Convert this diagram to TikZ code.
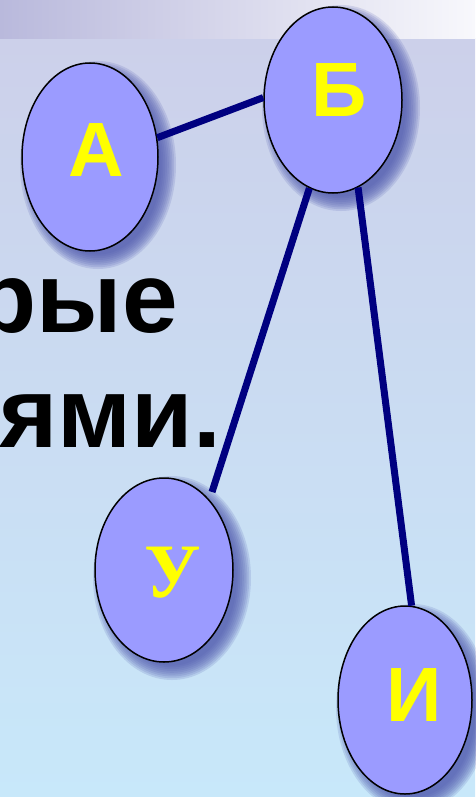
\documentclass[tikz,border=0pt]{standalone}
\usepackage{fontspec}
\setmainfont{Liberation Sans}
\newfontfamily\serifcyr{Liberation Serif}
\usetikzlibrary{shapes.geometric}
\definecolor{bandL}{RGB}{185,185,220}
\definecolor{bandR}{RGB}{248,248,252}
\definecolor{bgTop}{RGB}{204,208,234}
\definecolor{bgBot}{RGB}{200,232,250}
\definecolor{nodefill}{RGB}{155,155,255}
\definecolor{shadowc}{RGB}{80,90,175}
\definecolor{edgec}{RGB}{0,0,128}
\definecolor{lettc}{RGB}{255,255,0}
\tikzset{
  vertex/.style={ellipse, draw=black, line width=1.5pt, fill=nodefill,
    inner sep=0pt, minimum width=#1},
  vlabel/.style={inner sep=0pt, text=lettc, font=\fontsize{77}{77}\selectfont\bfseries},
  edge/.style={draw=edgec, line width=7pt},
  bigtext/.style={inner sep=0pt, anchor=base east, font=\fontsize{100}{100}\selectfont\bfseries},
  shadowlayer/.style={fill=shadowc, opacity=0.17}
}
\newcommand{\mysoftshadow}[4]{%
  \foreach \k in {0,...,8}{
    \fill[shadowlayer] (#1+8,#2+8) ellipse ({#3+10-1.8*\k} and {#4+10-1.8*\k});
  }}
\begin{document}
\begin{tikzpicture}[x=1pt,y=-1pt]
\useasboundingbox (0,0) rectangle (475,797);
\shade[top color=bgTop, bottom color=bgBot] (0,39) rectangle (475,797);
\shade[left color=bandL, right color=bandR] (0,0) rectangle (475,39);
\node[bigtext] (t1) at (178,332) {рые};
\node[bigtext] (t2) at (221,447) {ями.};
\mysoftshadow{90}{157}{68}{94}
\mysoftshadow{333}{100}{69}{93}
\mysoftshadow{164}{570}{69}{92}
\mysoftshadow{405}{700}{67}{94}
\node[vertex=136pt, minimum height=188pt] (A) at (90,157) {};
\node[vertex=138pt, minimum height=186pt] (B) at (333,100) {};
\node[vertex=138pt, minimum height=184pt] (U) at (164,570) {};
\node[vertex=134pt, minimum height=188pt] (I) at (405,700) {};
\node[vlabel] (lA) at (96,150) {А};
\node[vlabel] (lB) at (339,90) {Б};
\node[vlabel, font=\fontsize{77}{77}\selectfont\serifcyr\bfseries] (lU) at (173,573) {У};
\node[vlabel] (lI) at (414,695) {И};
\coordinate (uend) at (212,492);
\draw[edge] (A.16) -- (B.178);
\draw[edge] (B.255) -- (uend);
\draw[edge] (B.286) -- (I.86);
\end{tikzpicture}
\end{document}
